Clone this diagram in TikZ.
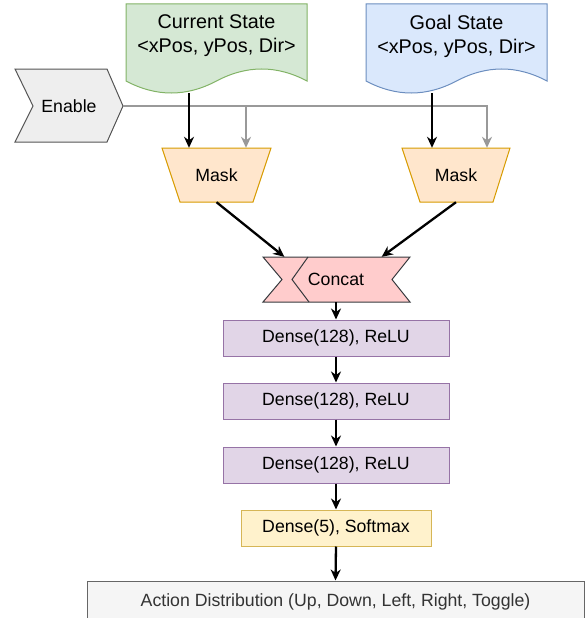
\documentclass[tikz,border=0pt]{standalone}
\usepackage{fontspec}
\setmainfont{Liberation Sans}
\usetikzlibrary{arrows.meta}

\definecolor{curFill}{HTML}{D5E8D4}
\definecolor{curLine}{HTML}{82B366}
\definecolor{goalFill}{HTML}{DAE8FC}
\definecolor{goalLine}{HTML}{6C8EBF}
\definecolor{enFill}{HTML}{EEEEEE}
\definecolor{enLine}{HTML}{555555}
\definecolor{maskFill}{HTML}{FFE6CC}
\definecolor{maskLine}{HTML}{D79B00}
\definecolor{catFill}{HTML}{FFCCCC}
\definecolor{catLine}{HTML}{36393D}
\definecolor{denseFill}{HTML}{E1D5E7}
\definecolor{denseLine}{HTML}{9673A6}
\definecolor{softFill}{HTML}{FFF2CC}
\definecolor{softLine}{HTML}{D6B656}
\definecolor{actFill}{HTML}{F5F5F5}
\definecolor{actLine}{HTML}{666666}
\definecolor{actText}{HTML}{333333}
\definecolor{lineGray}{HTML}{999999}

\begin{document}
\begin{tikzpicture}[x=1pt,y=-1pt,
    lbl/.style={font=\fontsize{17.7}{21}\selectfont,inner sep=0pt,align=center},
    state/.style={font=\fontsize{19.8}{24}\selectfont,inner sep=0pt,align=center},
    arr/.style={line width=2.3pt,-{Stealth[length=11pt,width=10pt,inset=3.5pt]}},
    garr/.style={arr,draw=lineGray},
    outl/.style={line width=1pt},
    layer/.style={lbl,outl,draw=denseLine,fill=denseFill,minimum width=226pt,minimum height=36pt}]
    \useasboundingbox (0,0) rectangle (586,618);

    % input documents
    \draw[outl,fill=curFill,draw=curLine] (126,4) -- (307,4) -- (307,81)
        .. controls (276.8,65) and (246.7,65) .. (216.5,81)
        .. controls (186.3,97) and (156.2,97) .. (126,81) -- cycle;
    \draw[outl,fill=goalFill,draw=goalLine] (366,4) -- (547,4) -- (547,81)
        .. controls (516.8,65) and (486.7,65) .. (456.5,81)
        .. controls (426.3,97) and (396.2,97) .. (366,81) -- cycle;
    \node[state] (cur) at (216.5,36) {Current State\\<xPos, yPos, Dir>};
    \node[state] (goal) at (456.5,36) {Goal State\\<xPos, yPos, Dir>};

    % enable step
    \draw[outl,fill=enFill,draw=enLine] (15,69) -- (107,69) -- (123,106)
        -- (107,142) -- (15,142) -- (33,106) -- cycle;
    \node[lbl,minimum width=108pt,minimum height=73pt] (en) at (69,106) {Enable};

    % masks
    \draw[outl,fill=maskFill,draw=maskLine] (162,148) -- (271,148) -- (253,202) -- (180,202) -- cycle;
    \draw[outl,fill=maskFill,draw=maskLine] (402,148) -- (510,148) -- (493,202) -- (420,202) -- cycle;
    \node[lbl,minimum width=109pt,minimum height=54pt] (mskL) at (216.5,175) {Mask};
    \node[lbl,minimum width=108pt,minimum height=54pt] (mskR) at (456,175) {Mask};

    % concat
    \draw[outl,fill=catFill,draw=catLine] (263,257) -- (410,257) -- (392,279.5)
        -- (410,302) -- (263,302) -- (282,279.5) -- cycle;
    \draw[outl,draw=catLine] (308,257) -- (292,279.5) -- (309,302);
    \node[lbl,minimum width=147pt,minimum height=45pt] (cat) at (336,279.5) {Concat};

    % layers
    \node[layer] (d1) at (336,338) {Dense(128), ReLU};
    \node[layer] (d2) at (336,401) {Dense(128), ReLU};
    \node[layer] (d3) at (336,465) {Dense(128), ReLU};
    \node[lbl,outl,draw=softLine,fill=softFill,minimum width=190pt,minimum height=36pt] (soft) at (336,528) {Dense(5), Softmax};
    \node[lbl,outl,draw=actLine,fill=actFill,text=actText,minimum width=497pt,minimum height=42pt] (act) at (335.5,602) {Action Distribution (Up, Down, Left, Right, Toggle)};

    % connectors
    \coordinate (curOut) at (189,93);
    \coordinate (goalOut) at (432,93);
    \coordinate (tapL) at (246,106);
    \coordinate (tapR) at (487,106);
    \draw[garr] (en.east) -- (tapR) -- (tapR |- mskR.north);
    \draw[garr] (tapL) -- (tapL |- mskL.north);
    \draw[arr] (curOut) -- (curOut |- mskL.north);
    \draw[arr] (goalOut) -- (goalOut |- mskR.north);
    \draw[arr] (mskL.south) -- ([xshift=22pt]cat.north west);
    \draw[arr] (mskR.south) -- ([xshift=-28pt]cat.north east);
    \draw[arr] (cat.south) -- (d1.north);
    \foreach \a/\b in {d1/d2,d2/d3,d3/soft,soft/act}
        \draw[arr] (\a.south) -- (\b.north);
\end{tikzpicture}
\end{document}
